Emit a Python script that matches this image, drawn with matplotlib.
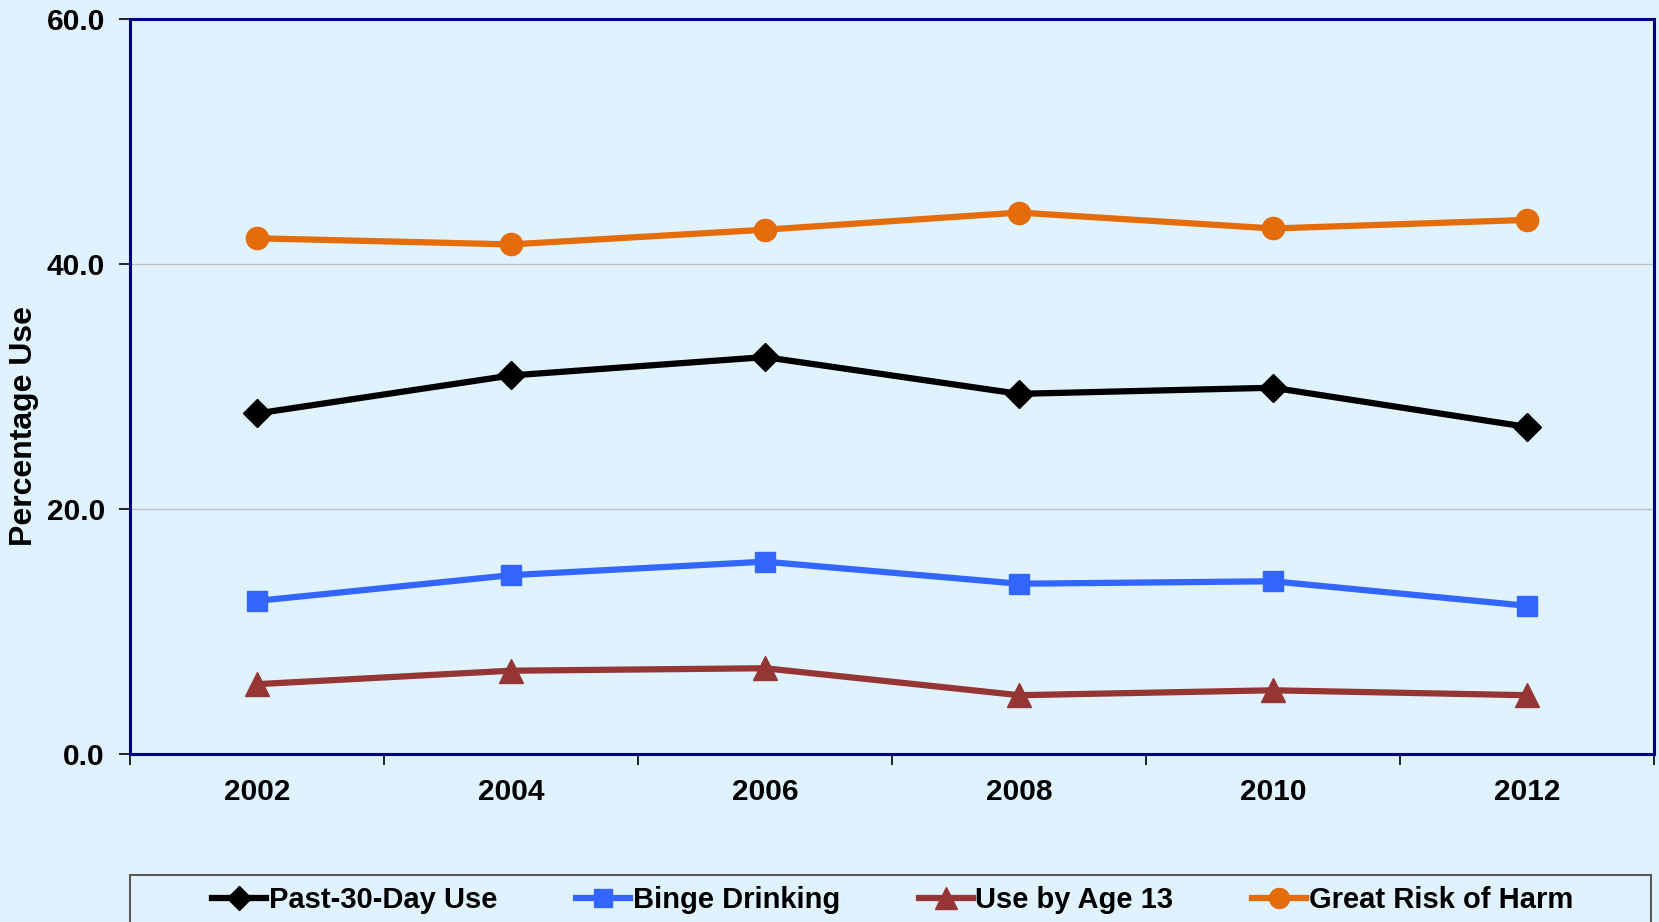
import matplotlib
matplotlib.use("Agg")
import matplotlib.pyplot as plt
from matplotlib.patches import Rectangle

plt.rcParams['font.family'] = ['Liberation Sans', 'DejaVu Sans']
plt.rcParams['font.weight'] = 'bold'

# data
years = ['2002', '2004', '2006', '2008', '2010', '2012']
past30 = [27.8, 30.9, 32.4, 29.4, 29.9, 26.7]
binge = [12.5, 14.6, 15.7, 13.9, 14.1, 12.1]
age13 = [5.7, 6.8, 7.0, 4.8, 5.2, 4.8]
risk = [42.1, 41.6, 42.8, 44.2, 42.9, 43.6]

bg = '#E0F2FE'
fig = plt.figure(figsize=(16.59, 9.22), dpi=100, facecolor=bg)
ax = fig.add_axes([130/1659, (922-754)/922, 1524/1659, (754-19)/922])
ax.set_facecolor(bg)

x = range(len(years))
ax.plot(x, past30, color='black', lw=4.5, marker='D', ms=14, label='Past-30-Day Use', zorder=4)
ax.plot(x, binge, color='#3366FF', lw=4.5, marker='s', ms=14, label='Binge Drinking', zorder=4)
ax.plot(x, age13, color='#963634', lw=4.5, marker='^', ms=17, label='Use by Age 13', zorder=4)
ax.plot(x, risk, color='#E46C0A', lw=4.5, marker='o', ms=16, label='Great Risk of Harm', zorder=4)

ax.set_xlim(-0.5, len(years) - 0.5)
ax.set_ylim(0, 60)
ax.set_yticks([0, 20, 40, 60])
ax.set_yticklabels(['0.0', '20.0', '40.0', '60.0'], fontsize=21.5, fontweight='bold')
ax.yaxis.grid(True, color='#BFBFBF', lw=1)
ax.set_axisbelow(True)

# category labels centered, ticks between categories
ax.set_xticks(list(x))
ax.set_xticklabels(years, fontsize=21.5, fontweight='bold')
ax.tick_params(axis='x', which='major', length=0, pad=17)
ax.set_xticks([i - 0.5 for i in range(len(years) + 1)], minor=True)
ax.tick_params(axis='x', which='minor', length=8, width=1.2, color='black')
ax.tick_params(axis='y', length=8, width=1.2, color='black', pad=10)

for s in ax.spines.values():
    s.set_color('#000080')
    s.set_linewidth(2.2)

ax.set_ylabel('Percentage Use', fontsize=23, fontweight='bold')
ax.yaxis.set_label_coords(-0.060, 0.446)

# legend box
fig.patches.append(Rectangle((130/1659, -0.05), 1521/1659, (922-875)/922 + 0.05,
                             transform=fig.transFigure, facecolor='none',
                             edgecolor='#595959', lw=1.5))
fig.legend(loc='center', bbox_to_anchor=(0.538, (922-900)/922), ncol=4, frameon=False,
           prop={'size': 21, 'weight': 'bold'}, handlelength=1.85, handletextpad=0.1,
           columnspacing=2.7, markerscale=0.9)

fig.savefig('out.png', dpi=100, facecolor=bg)
